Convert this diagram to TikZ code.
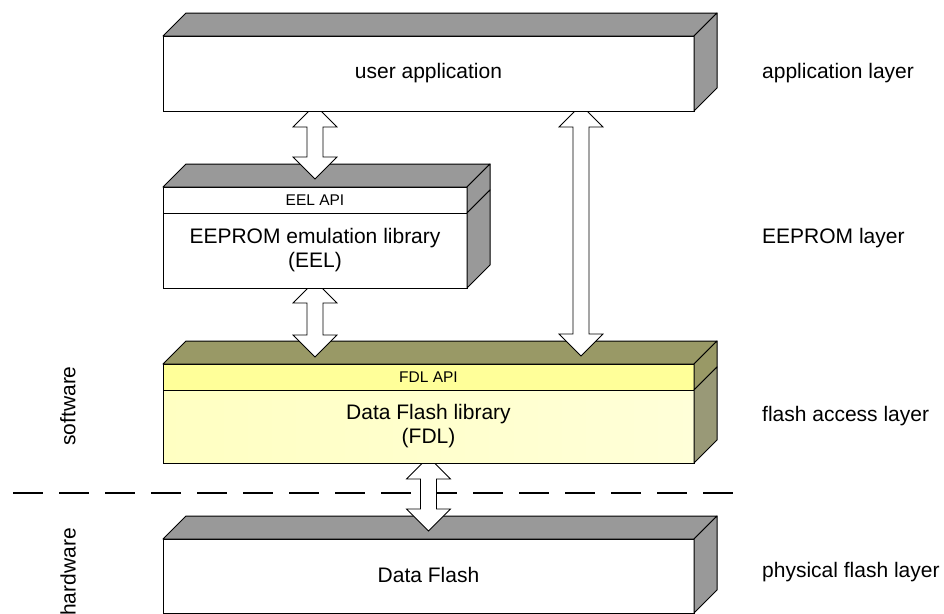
\documentclass[tikz,border=0pt]{standalone}
\usepackage{fontspec}
\setmainfont{Liberation Sans}
\usetikzlibrary{calc}
\definecolor{boxgray}{HTML}{999999}
\definecolor{olivetop}{HTML}{999966}
\definecolor{oliveside}{HTML}{999977}
\definecolor{apiyellow}{HTML}{FFFF99}
\definecolor{bodyyellowL}{HTML}{FFFFC2}
\definecolor{bodyyellowR}{HTML}{FFFFD8}
\tikzset{
  front/.style={draw=black, line width=1pt, fill=white, anchor=north west, inner sep=0pt, outer sep=0pt, align=center, font=\fontsize{21}{24}\selectfont},
  apiband/.style={front, font=\fontsize{15.5}{18}\selectfont},
  face/.style={draw=black, line width=1pt, line join=round},
  fatarrowstyle/.style={draw=black, fill=white, line width=0.8pt, line join=miter},
  layerlabel/.style={anchor=west, inner sep=0pt, font=\fontsize{21}{24}\selectfont},
  sidelabel/.style={rotate=90, inner sep=0pt, font=\fontsize{21}{24}\selectfont},
  divider/.style={draw=black, line width=1.6pt, dash pattern=on 30pt off 16pt}
}
\newcommand{\fatarrow}[2]{%
  \draw[fatarrowstyle] (#1) -- ++(22,22) -- ++(-14,0) -- ($(#2)+(8,-22)$) -- ++(14,0) -- (#2)
    -- ++(-22,-22) -- ++(14,0) -- ($(#1)+(-8,22)$) -- ++(-14,0) -- cycle;}
\newcommand{\topface}[3]{% west node, east node, colour
  \filldraw[face, fill=#3] (#1.north west) -- ++(23,-23) -- ($(#2.north east)+(23,-23)$) -- (#2.north east) -- cycle;}
\newcommand{\sideface}[2]{% node, colour
  \filldraw[face, fill=#2] (#1.north east) -- ++(23,-23) -- ($(#1.south east)+(23,-23)$) -- (#1.south east) -- cycle;}
\begin{document}
\begin{tikzpicture}[x=1pt,y=-1pt]
\useasboundingbox (0,0) rectangle (944,613);
\clip (0,0) rectangle (944,613);

% divider line
\coordinate (dl) at (13,493);
\coordinate (dr) at (735,493);
\draw[divider] (dl) -- (dr);

% Data Flash
\node[front, minimum width=531pt, minimum height=74pt] (df) at (163,539) {};
\topface{df}{df}{boxgray}
\sideface{df}{boxgray}
\node[font=\fontsize{21}{24}\selectfont] (dftext) at ($(df.north)+(0,36)$) {Data Flash};

% arrow FDL <-> Data Flash
\node[front, minimum width=531pt, minimum height=26pt, draw=none, fill=none] (fdlapiref) at (163,364) {};
\node[front, minimum width=531pt, minimum height=73pt, draw=none, fill=none] (fdlref) at (163,390) {};
\coordinate (a4t) at ($(fdlref.south)+(0,-6)$);
\coordinate (a4b) at ($(df.north)+(0,-8)$);
\fatarrow{a4t}{a4b}

% FDL box
\node[apiband, fill=apiyellow, minimum width=531pt, minimum height=26pt] (fdlapi) at (163,364) {FDL API};
\node[front, left color=bodyyellowL, right color=bodyyellowR, minimum width=531pt, minimum height=73pt] (fdlbody) at (163,390) {Data Flash library\\(FDL)};
\topface{fdlapi}{fdlapi}{olivetop}
\sideface{fdlapi}{olivetop}
\sideface{fdlbody}{oliveside}

% arrows to FDL
\node[front, minimum width=531pt, minimum height=75pt, draw=none, fill=none] (uaref) at (163,36) {};
\node[front, minimum width=304pt, minimum height=75pt, draw=none, fill=none] (eelref) at (163,213) {};
\coordinate (a2t) at ($(eelref.south)+(0,-7)$);
\coordinate (a2b) at ($(eelref.south |- fdlapi.north)+(0,-7)$);
\fatarrow{a2t}{a2b}
\coordinate (a3t) at ($(uaref.south west)+(418,-6)$);
\coordinate (a3b) at ($(fdlapi.north west)+(418,-8)$);
\fatarrow{a3t}{a3b}

% EEL box
\node[apiband, minimum width=304pt, minimum height=26pt] (eelapi) at (163,187) {EEL API};
\node[front, minimum width=304pt, minimum height=75pt] (eelbody) at (163,213) {EEPROM emulation library\\(EEL)};
\topface{eelapi}{eelapi}{boxgray}
\sideface{eelapi}{boxgray}
\sideface{eelbody}{boxgray}

% arrow user application <-> EEL
\coordinate (a1t) at ($(eelapi.north |- uaref.south)+(0,-6)$);
\coordinate (a1b) at ($(eelapi.north)+(0,-8)$);
\fatarrow{a1t}{a1b}

% user application box
\node[front, minimum width=531pt, minimum height=75pt] (ua) at (163,36) {user application};
\topface{ua}{ua}{boxgray}
\sideface{ua}{boxgray}

% layer labels
\node[layerlabel] (l1) at (762,73) {application layer};
\node[layerlabel] (l2) at (762,238) {EEPROM layer};
\node[layerlabel] (l3) at (762,416) {flash access layer};
\node[layerlabel] (l4) at (762,572) {physical flash layer};

% software / hardware
\node[sidelabel] (sw) at (68,406) {software};
\node[sidelabel] (hw) at (68,572) {hardware};
\end{tikzpicture}
\end{document}
